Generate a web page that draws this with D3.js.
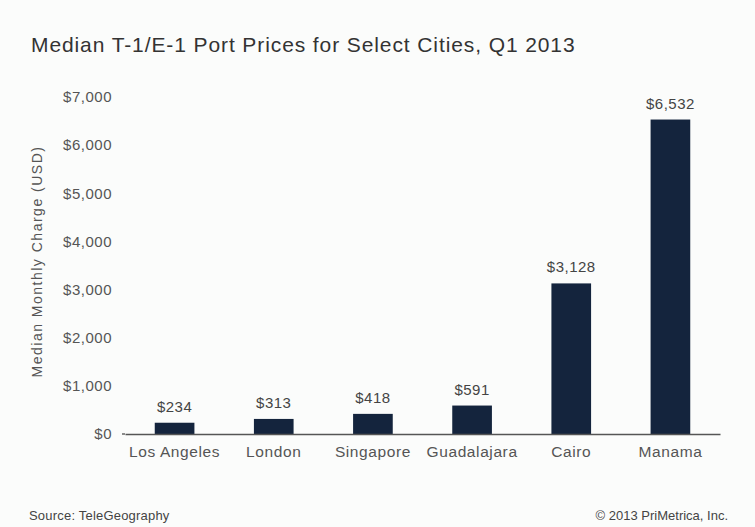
<!DOCTYPE html>
<html>
<head>
<meta charset="utf-8">
<script src="https://cdn.jsdelivr.net/npm/d3@7"></script>
<style>
  body { margin: 0; background: #fbfcfb; }
  svg { display: block; font-family: "Liberation Sans", Arial, sans-serif; }
</style>
</head>
<body>
<svg id="chart" width="755" height="527"></svg>
<script>
let cities = ["Los Angeles", "London", "Singapore", "Guadalajara", "Cairo", "Manama"];
let prices = [234, 313, 418, 591, 3128, 6532];
let yTicks = [0, 1000, 2000, 3000, 4000, 5000, 6000, 7000];

let data = cities.map((c, i) => ({city: c, value: prices[i]}));

let svg = d3.select("#chart");
let margin = {left: 125, right: 35, top: 97, bottom: 93};
let width = 755, height = 527;

svg.append("rect").attr("width", width).attr("height", height).attr("fill", "#fbfcfb");

let x = d3.scaleBand()
  .domain(cities)
  .range([margin.left, width - margin.right])
  .paddingInner(0.6)
  .paddingOuter(0.3);

let y = d3.scaleLinear()
  .domain([0, 7000])
  .range([height - margin.bottom, margin.top]);

let money = d => "$" + d3.format(",")(d);

// title
svg.append("text")
  .attr("x", 31).attr("y", 52)
  .attr("font-size", 21)
  .attr("letter-spacing", 0.9)
  .attr("fill", "#333")
  .text("Median T-1/E-1 Port Prices for Select Cities, Q1 2013");

// y axis labels
let yAxis = svg.append("g")
  .attr("transform", `translate(${margin.left},0)`)
  .call(d3.axisLeft(y).tickValues(yTicks).tickSize(0).tickPadding(13).tickFormat(money));
yAxis.select(".domain").remove();
yAxis.selectAll("text")
  .attr("font-size", 15).attr("letter-spacing", 0.5)
  .attr("fill", "#555").attr("font-family", "Liberation Sans, Arial, sans-serif");

// small tick at $0
svg.append("line")
  .attr("x1", margin.left - 3).attr("x2", margin.left)
  .attr("y1", y(0)).attr("y2", y(0))
  .attr("stroke", "#666").attr("stroke-width", 1.5);

svg.append("text")
  .attr("transform", `translate(42,${(y(0) + y(7000)) / 2 - 4}) rotate(-90)`)
  .attr("text-anchor", "middle")
  .attr("font-size", 14)
  .attr("letter-spacing", 1.5)
  .attr("fill", "#555")
  .text("Median Monthly Charge (USD)");

// bars
svg.append("g").selectAll("rect")
  .data(data)
  .join("rect")
  .attr("x", d => x(d.city))
  .attr("width", x.bandwidth())
  .attr("y", d => y(d.value))
  .attr("height", d => y(0) - y(d.value))
  .attr("fill", "#14243d");

// value labels
svg.append("g").selectAll("text")
  .data(data)
  .join("text")
  .attr("x", d => x(d.city) + x.bandwidth() / 2)
  .attr("y", d => y(d.value) - 11)
  .attr("text-anchor", "middle")
  .attr("font-size", 15)
  .attr("letter-spacing", 0.5)
  .attr("fill", "#444")
  .text(d => money(d.value));

// x axis
let xAxis = svg.append("g")
  .attr("transform", `translate(0,${y(0)})`)
  .call(d3.axisBottom(x).tickSize(0).tickPadding(12));
xAxis.select(".domain").attr("stroke", "#555").attr("stroke-width", 1.5);
xAxis.selectAll("text")
  .attr("font-size", 15.5).attr("letter-spacing", 0.6)
  .attr("fill", "#555").attr("font-family", "Liberation Sans, Arial, sans-serif");

// footer
svg.append("text")
  .attr("x", 29).attr("y", 520)
  .attr("font-size", 13)
  .attr("letter-spacing", 0.2)
  .attr("fill", "#444")
  .text("Source: TeleGeography");

svg.append("text")
  .attr("x", 728).attr("y", 520)
  .attr("text-anchor", "end")
  .attr("font-size", 13)
  .attr("fill", "#444")
  .text("© 2013 PriMetrica, Inc.");
</script>
</body>
</html>
